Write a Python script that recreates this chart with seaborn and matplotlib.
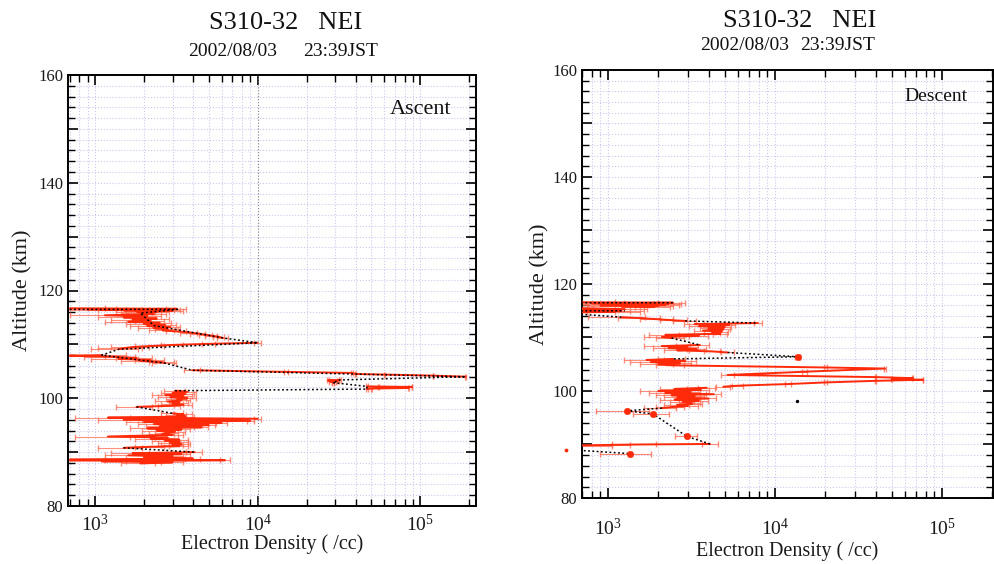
import numpy as np
import pandas as pd
import matplotlib
matplotlib.use("Agg")
import matplotlib.pyplot as plt
import matplotlib.ticker as mticker
import seaborn as sns

# ---------------- data ----------------
title_text = "S310-32   NEI"
date_text = "2002/08/03"
time_text = "23:39JST"
x_label = "Electron Density ( /cc)"
y_label = "Altitude (km)"
x_ticks = [1e3, 1e4, 1e5]
x_ticklabels = [r"$10^3$", r"$10^4$", r"$10^5$"]
y_ticks = [80, 90, 100, 110, 120, 130, 140, 150, 160]
y_ticklabels = ["80", "", "100", "", "120", "", "140", "", "160"]
error_cc = 450  # absolute density uncertainty (/cc)

# Ascent: red segments (segment id, altitude, density)
asc_seg = ([1] * 10 + [2] * 24 + [3] * 7 + [4] * 9 + [5] * 7 + [6] * 6 + [7] * 6
           + [8] * 16 + [9] * 33 + [10] * 12)
asc_alt = [116.7, 116.6, 116.5, 116.45, 116.4, 116.35, 116.3, 116.2, 116.1, 116.0,
           115.8, 115.6, 115.4, 115.2, 115.0, 114.8, 114.6, 114.4, 114.2, 114.0, 113.8, 113.6,
           113.4, 113.2, 113.0, 112.8, 112.6, 112.4, 112.2, 112.0, 111.8, 111.6, 111.4, 111.2,
           110.3, 110.1, 109.9, 109.7, 109.5, 109.3, 109.1,
           108.0, 107.9, 107.7, 107.5, 107.3, 107.1, 106.9, 106.7, 106.5,
           105.2, 104.9, 104.7, 104.5, 104.4, 104.2, 104.0,
           103.4, 103.3, 103.2, 103.1, 103.0, 102.9,
           102.2, 102.1, 102.0, 101.9, 101.8, 101.7,
           101.4, 101.2, 101.0, 100.8, 100.6, 100.4, 100.2, 100.0, 99.8, 99.6, 99.4, 99.2,
           99.0, 98.8, 98.6, 98.4,
           97.2, 97.0, 96.8, 96.6, 96.4, 96.2, 96.0, 95.8, 95.6, 95.4, 95.2, 95.0, 94.8, 94.6,
           94.4, 94.2, 94.0, 93.8, 93.6, 93.4, 93.2, 92.9, 92.7, 92.5, 92.3, 92.1, 91.9, 91.7,
           91.5, 91.3, 91.1, 91.0, 90.8,
           90.0, 89.8, 89.6, 89.4, 89.2, 89.0, 88.8, 88.6, 88.5, 88.3, 88.1, 87.9]
asc_dens = [700, 3200, 900, 2900, 1100, 2600, 1500, 3000, 1800, 2400,
            1900, 2300, 1150, 2100, 1500, 2400, 1700, 2200, 1600, 2500, 2000, 2700,
            2100, 2900, 2300, 2800, 2600, 3200, 3800, 4300, 4800, 5200, 5800, 6100,
            10000, 5000, 3000, 2200, 1700, 1500, 1400,
            1100, 700, 1300, 1800, 1400, 2200, 1900, 2600, 2700,
            3950, 15000, 38000, 40000, 60000, 120000, 190000,
            32000, 27000, 31000, 28000, 30000, 29000,
            47000, 89000, 55000, 85000, 50000, 47000,
            3100, 3700, 3000, 3600, 2700, 3500, 2900, 3700, 3200, 3400, 2800, 3300,
            3000, 3500, 2900, 1800,
            3000, 3500, 3200, 3600, 1200, 10000, 1500, 9000, 2000, 6000, 2300, 5000, 2500, 4500,
            2100, 3400, 2400, 3100, 2800, 2600, 3000, 1200, 2800, 2200, 3300, 2700, 3300, 2900,
            3400, 3000, 3300, 2200, 1500,
            4100, 1700, 3400, 1600, 3000, 2000, 4000, 700, 6300, 1100, 3000, 1900]

# Ascent: black dotted linking path (NaN = break)
asc_link_alt = [116.5, 116.5, 115.8, 113.5, 111.2, 110.3, 109.1, 108.0, 106.5, 105.2,
                104.0, 103.4, 102.9, 102.2, 101.7, 101.4, np.nan, 98.4, 97.2, np.nan,
                90.8, 90.0]
asc_link_dens = [700, 3200, 1900, 2300, 6100, 10000, 1400, 1100, 2700, 3950,
                 190000, 32000, 29000, 47000, 47000, 3100, np.nan, 1800, 3000, np.nan,
                 1500, 4100]

# Descent: red segments
des_seg = ([1] * 10 + [2] * 7 + [3] * 5 + [4] * 15 + [5] * 8 + [6] * 20 + [7] * 20 + [8] * 4)
des_alt = [116.6, 116.5, 116.4, 116.3, 116.2, 116.1, 116.0, 115.9, 115.8, 115.7,
           115.5, 115.3, 115.1, 115.0, 114.9, 114.8, 114.7,
           113.8, 113.6, 113.4, 113.2, 113.1,
           112.7, 112.5, 112.3, 112.1, 111.9, 111.7, 111.5, 111.3, 111.1, 110.9, 110.7, 110.5,
           110.3, 110.1, 109.9,
           108.6, 108.4, 108.2, 108.0, 107.8, 107.6, 107.4, 107.2,
           106.0, 105.8, 105.6, 105.4, 105.2, 105.0, 104.8, 104.4, 104.2, 103.6, 103.0, 102.6,
           102.4, 102.2, 102.1, 101.9, 101.6, 101.3, 101.0, 100.8,
           100.6, 100.4, 100.2, 100.0, 99.8, 99.6, 99.4, 99.2, 99.0, 98.8, 98.6, 98.4, 98.2,
           98.0, 97.8, 97.6, 97.4, 97.2, 97.0, 96.8,
           90.1, 90.0, 89.9, 89.8]
des_dens = [650, 2450, 800, 2300, 1000, 2200, 900, 2000, 1200, 1900,
            650, 1260, 700, 1200, 900, 1100, 650,
            1210, 1600, 2000, 2500, 2900,
            7900, 3300, 5300, 3500, 5000, 4000, 4900, 3700, 4800, 4200, 4700, 2200,
            3500, 2100, 2400,
            3550, 2100, 3000, 2300, 3400, 2600, 4200, 5200,
            2450, 1700, 2900, 1800, 2700, 2000, 2400, 20000, 45500, 15000, 5200, 40000,
            67000, 50000, 77000, 40000, 20000, 12000, 6000, 4900,
            3900, 2500, 3600, 2000, 3100, 2200, 4300, 2400, 3300, 2600, 4000, 2500, 3500,
            2800, 3100, 3200, 2600, 3000, 2400, 2100,
            4080, 1500, 900, 600]

# Descent: isolated measured points (dots)
des_pt_alt = [106.4, 96.3, 95.7, 91.5, 88.3]
des_pt_dens = [13700, 1300, 1860, 2970, 1350]

# Descent: black dotted linking path
des_link_alt = [116.5, 116.5, np.nan, 115.0, 115.0, np.nan, 114.4, 113.8, np.nan,
                113.1, 112.7, np.nan, 109.9, 108.6, np.nan, 107.2, 106.4, 106.0, np.nan,
                96.8, 96.3, 95.7, 91.5, 90.1, np.nan, 89.0, 88.3]
des_link_dens = [650, 2450, np.nan, 650, 1260, np.nan, 650, 1210, np.nan,
                 2900, 7900, np.nan, 2400, 3550, np.nan, 5200, 13700, 2450, np.nan,
                 2100, 1300, 1860, 2970, 4080, np.nan, 600, 1350]

# stray marks
des_stray_alt = [98.1]
des_stray_dens = [13500]
des_out_alt = [89.0]
des_out_dens = [560]

# ---------------- style ----------------
sns.set_theme(style="ticks")
plt.rcParams["font.family"] = ["Liberation Serif", "DejaVu Serif"]
plt.rcParams["mathtext.fontset"] = "custom"
plt.rcParams["mathtext.rm"] = "Liberation Serif"
plt.rcParams["mathtext.it"] = "Liberation Serif:italic"

RED = "#ff2a0a"
ERR = "#ff6a50"
GRID = "#c9c9f2"
TXT = "#1a1a1a"

fig = plt.figure(figsize=(9.95, 5.64), dpi=100)
ax1 = fig.add_axes([68 / 995, 1 - 506 / 564, 408 / 995, 431 / 564])
ax2 = fig.add_axes([582 / 995, 1 - 498 / 564, 411 / 995, 428 / 564])


def style_axis(ax, xlim, tag, tag_xy, tag_size, gray_major, xpad, xlabelpad, ylabelpad):
    ax.set_xscale("log")
    ax.set_xlim(*xlim)
    ax.set_ylim(80, 160)
    ax.set_xticks(x_ticks)
    ax.set_xticklabels(x_ticklabels)
    ax.xaxis.set_minor_locator(mticker.LogLocator(base=10, subs=np.arange(2, 10)))
    ax.xaxis.set_minor_formatter(mticker.NullFormatter())
    ax.set_yticks(y_ticks)
    ax.set_yticklabels(y_ticklabels)
    ax.yaxis.set_minor_locator(mticker.MultipleLocator(2))
    ax.tick_params(which="both", direction="in", top=True, right=True, colors="black",
                   labelcolor=TXT)
    ax.tick_params(which="major", length=7, width=1.2, labelsize=12)
    ax.tick_params(which="minor", length=5, width=1.0)
    ax.tick_params(axis="x", which="major", labelsize=14, pad=xpad)
    ax.grid(True, which="both", axis="both", color=GRID, linestyle=":", linewidth=0.8)
    if gray_major:
        ax.axvline(1e4, color="#8a8a8a", linestyle=":", linewidth=0.8, zorder=1)
    for s in ax.spines.values():
        s.set_color("black")
        s.set_linewidth(1.4)
    ax.set_xlabel(x_label, fontsize=14.5, color=TXT, labelpad=xlabelpad)
    ax.set_ylabel(y_label, fontsize=16, color=TXT, labelpad=ylabelpad)
    ax.text(tag_xy[0], tag_xy[1], tag, transform=ax.transAxes, ha="center", va="center",
            fontsize=tag_size, color="#111111")
    ax.set_axisbelow(True)


def draw_profile(ax, seg, alt, dens, link_alt, link_dens):
    df = pd.DataFrame({"seg": seg, "alt": alt, "dens": dens})
    ax.errorbar(df["dens"], df["alt"], xerr=error_cc, fmt="none", ecolor=ERR,
                elinewidth=0.8, capsize=2, alpha=0.75, zorder=2)
    sns.lineplot(data=df, x="dens", y="alt", units="seg", estimator=None, sort=False,
                 color=RED, linewidth=1.4, legend=False, ax=ax, zorder=3)
    ax.plot(link_dens, link_alt, color="black", linestyle=(0, (1.2, 1.6)), linewidth=1.1,
            zorder=4)


draw_profile(ax1, asc_seg, asc_alt, asc_dens, asc_link_alt, asc_link_dens)
draw_profile(ax2, des_seg, des_alt, des_dens, des_link_alt, des_link_dens)

ax2.errorbar(des_pt_dens, des_pt_alt, xerr=error_cc, fmt="none", ecolor=ERR,
             elinewidth=0.8, capsize=2, alpha=0.8, zorder=2)
sns.scatterplot(x=des_pt_dens, y=des_pt_alt, color=RED, s=22, edgecolor=RED, ax=ax2,
                zorder=5, legend=False)
ax2.scatter(des_stray_dens, des_stray_alt, s=2, color="black", zorder=5)
ax2.scatter(des_out_dens, des_out_alt, s=3, color=RED, zorder=5, clip_on=False)

style_axis(ax1, (682, 2.2e5), "Ascent", (0.863, 0.921), 16, True, 6, -1, 4)
style_axis(ax2, (698, 2.02e5), "Descent", (0.861, 0.937), 14, False, 14, 2, 2)

# titles
fig.text(286 / 995, 1 - 23 / 564, title_text, ha="center", va="center", fontsize=19,
         color="#111111")
fig.text(232.5 / 995, 1 - 52 / 564, date_text, ha="center", va="center", fontsize=14,
         color="#111111")
fig.text(340.5 / 995, 1 - 52 / 564, time_text, ha="center", va="center", fontsize=14,
         color="#111111")
fig.text(800 / 995, 1 - 21 / 564, title_text, ha="center", va="center", fontsize=19,
         color="#111111")
fig.text(745 / 995, 1 - 46 / 564, date_text, ha="center", va="center", fontsize=14,
         color="#111111")
fig.text(837.5 / 995, 1 - 46 / 564, time_text, ha="center", va="center", fontsize=14,
         color="#111111")

fig.savefig("out.png", dpi=100)
